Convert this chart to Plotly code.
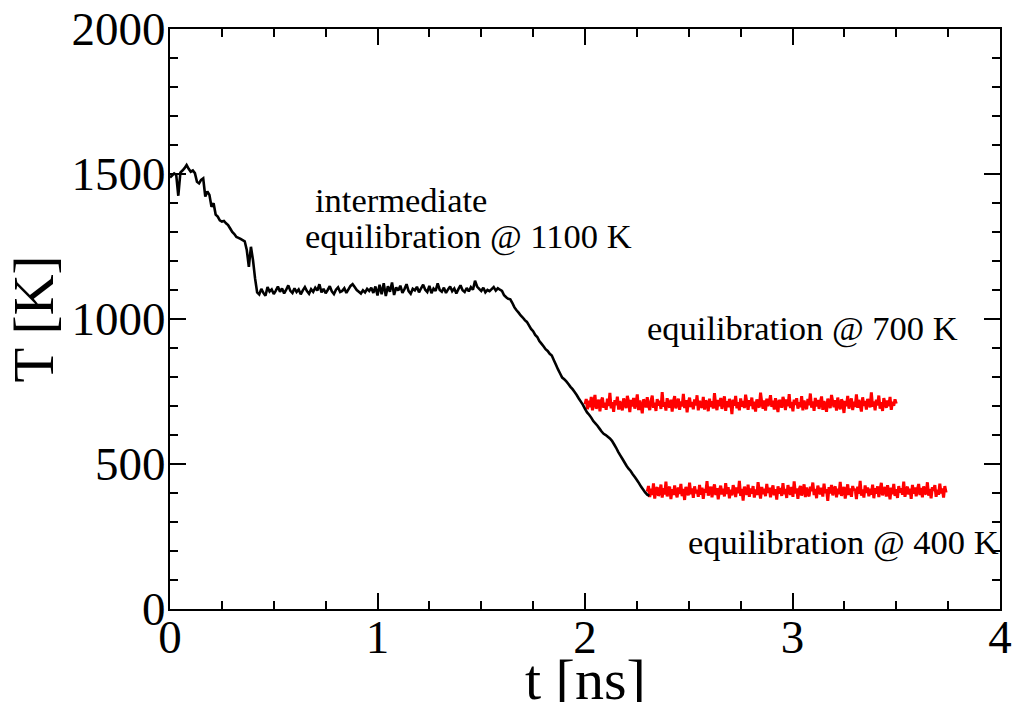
import numpy as np
import plotly.graph_objects as go

# ---------------- data ----------------
# black cooling trajectory, sampled every 0.01 ns starting at t = 0
black_t0 = 0.0
black_dt = 0.01
black_T = [
    1488, 1495, 1502, 1497, 1425, 1505, 1512, 1520, 1531, 1518, 1508,
    1512, 1503, 1473, 1468, 1480, 1485, 1422, 1440, 1428, 1387,
    1399, 1360, 1353, 1340, 1336, 1338, 1330, 1324, 1312, 1300,
    1293, 1283, 1280, 1276, 1272, 1268, 1238, 1180, 1249, 1203,
    1140, 1092, 1085, 1104, 1090, 1080, 1110, 1095, 1102, 1086,
    1098, 1112, 1094, 1105, 1088, 1101, 1116, 1097, 1090, 1106,
    1093, 1102, 1085, 1099, 1110, 1096, 1087, 1103, 1094, 1108,
    1098, 1120, 1092, 1104, 1089, 1100, 1113, 1095, 1086, 1101,
    1109, 1093, 1097, 1106, 1090, 1102, 1114, 1120, 1110, 1100,
    1094, 1088, 1099, 1092, 1104, 1097, 1108, 1090, 1112, 1081,
    1118, 1085, 1123, 1079, 1113, 1094, 1126, 1083, 1109, 1098,
    1115, 1090, 1103, 1120, 1096, 1087, 1104, 1099, 1111, 1092,
    1106, 1118, 1101, 1093, 1114, 1089, 1105, 1097, 1123, 1100,
    1094, 1108, 1090, 1102, 1112, 1096, 1105, 1088, 1103, 1116,
    1099, 1093, 1107, 1095, 1110, 1101, 1132, 1112, 1104, 1097,
    1108, 1092, 1100, 1096, 1103, 1110, 1098, 1106, 1101, 1097,
    1082, 1075, 1070, 1068, 1055, 1040, 1030, 1022, 1012, 1005,
    996, 990, 978, 966, 958, 945, 938, 924, 915, 906,
    896, 890, 880, 874, 858, 842, 826, 812, 798, 792,
    785, 776, 766, 758, 748, 738, 726, 715, 704, 690,
    678, 670, 660, 648, 640, 632, 622, 612, 604, 600,
    594, 588, 580, 568, 556, 542, 530, 518, 506, 494,
    484, 476, 465, 455, 445, 434, 422, 412, 402, 394,
    390,
]

# red equilibration run at 700 K, sampled every 0.006 ns from t = 2.0
eq700_t0 = 2.0
eq700_dt = 0.006
eq700_T = [
    706, 724, 689, 718, 696, 731, 685, 714, 738, 691,
    702, 722, 682, 716, 729, 694, 711, 687, 725, 700,
    745, 692, 713, 680, 720, 703, 732, 688, 717, 697,
    685, 726, 710, 693, 735, 715, 679, 721, 698, 728,
    691, 712, 740, 686, 719, 700, 675, 723, 714, 695,
    730, 702, 686, 717, 736, 694, 711, 683, 724, 701,
    718, 690, 748, 698, 713, 684, 727, 703, 695, 722,
    681, 715, 734, 692, 710, 725, 687, 716, 699, 742,
    693, 720, 678, 712, 729, 696, 714, 689, 723, 702,
    737, 685, 718, 700, 694, 731, 688, 719, 711, 682,
    725, 697, 716, 691, 744, 703, 686, 721, 699, 728,
    690, 714, 733, 683, 717, 696, 724, 710, 672, 722,
    701, 735, 692, 713, 685, 726, 698, 717, 693, 739,
    711, 687, 720, 700, 729, 689, 715, 681, 723, 703,
    695, 746, 712, 691, 719, 684, 725, 700, 714, 737,
    697, 718, 688, 727, 703, 679, 721, 712, 694, 731,
    716, 686, 723, 699, 741, 693, 714, 682, 722, 704,
    727, 691, 713, 696, 734, 685, 719, 701, 689, 724,
    703, 743, 694, 716, 683, 728, 698, 721, 690, 712,
    733, 687, 717, 700, 680, 725, 711, 693, 738, 714,
    696, 720, 684, 729, 702, 689, 723, 713, 676, 718,
    699, 735, 691, 712, 726, 686, 715, 697, 740, 694,
    721, 703, 681, 730, 700, 717, 688, 724, 711, 695,
    747, 698, 716, 685, 722, 702, 736, 691, 713, 683,
    727, 710, 694, 719, 699, 731, 687, 715, 701, 723,
    708,
]

# red equilibration run at 400 K, sampled every 0.006 ns from t = 2.30
eq400_t0 = 2.30
eq400_dt = 0.006
eq400_T = [
    405, 424, 386, 415, 393, 433, 381, 412, 420, 390,
    401, 429, 384, 417, 395, 439, 388, 410, 422, 379,
    413, 393, 426, 400, 385, 419, 397, 431, 389, 414,
    376, 421, 407, 392, 436, 396, 416, 383, 423, 399,
    411, 387, 428, 394, 418, 380, 414, 401, 441, 391,
    406, 422, 385, 412, 430, 393, 417, 378, 409, 425,
    395, 415, 388, 434, 397, 420, 382, 411, 392, 427,
    413, 386, 419, 399, 442, 390, 414, 374, 422, 408,
    394, 429, 387, 416, 398, 424, 384, 412, 393, 437,
    407, 381, 421, 396, 415, 389, 431, 400, 418, 385,
    410, 426, 392, 413, 377, 423, 398, 417, 390, 434,
    396, 414, 383, 427, 408, 394, 421, 387, 440, 399,
    416, 380, 412, 424, 391, 409, 430, 386, 419, 397,
    389, 422, 407, 436, 393, 414, 382, 425, 410, 395,
    418, 388, 432, 400, 413, 373, 420, 398, 428, 392,
    411, 423, 385, 415, 396, 438, 390, 409, 421, 381,
    405, 430, 393, 416, 387, 424, 408, 414, 379, 422,
    397, 442, 391, 412, 384, 426, 400, 419, 389, 415,
    394, 429, 382, 417, 398, 423, 386, 411, 435, 392,
    409, 421, 388, 427, 405, 378, 418, 396, 431, 390,
    413, 383, 424, 401, 416, 394, 439, 387, 410, 422,
    395, 415, 380, 428, 398, 419, 389, 412, 431, 393,
    417, 385, 423, 400, 396, 437, 391, 414, 382, 420,
    408, 427, 387, 411, 394, 432, 399, 416, 384, 424,
    402,
]

x_ticks = [0, 1, 2, 3, 4]
y_ticks = [0, 500, 1000, 1500, 2000]

labels = [
    ("intermediate", 0.69, 1410),
    ("equilibration @ 1100 K", 0.64, 1285),
    ("equilibration @ 700 K", 2.29, 968),
    ("equilibration @ 400 K", 2.487, 228),
]


def sample_times(t0, dt, n):
    return np.round(t0 + dt * np.arange(n), 4)


FONT = "Liberation Serif"

fig = go.Figure()
fig.add_trace(go.Scatter(
    x=sample_times(eq700_t0, eq700_dt, len(eq700_T)), y=eq700_T,
    mode="lines", line=dict(color="#ff0000", width=3, simplify=False),
    showlegend=False))
fig.add_trace(go.Scatter(
    x=sample_times(eq400_t0, eq400_dt, len(eq400_T)), y=eq400_T,
    mode="lines", line=dict(color="#ff0000", width=3, simplify=False),
    showlegend=False))
fig.add_trace(go.Scatter(
    x=sample_times(black_t0, black_dt, len(black_T)), y=black_T,
    mode="lines", line=dict(color="black", width=2.6, simplify=False),
    showlegend=False))

for text, x, y in labels:
    fig.add_annotation(x=x, y=y, text=text, showarrow=False,
                       xanchor="left", yanchor="middle",
                       font=dict(family=FONT, size=34.5, color="black"))

# x-axis title (placed so that it runs off the bottom edge like the reference)
fig.add_annotation(x=0.5, y=-0.121, xref="paper", yref="paper",
                   text="t [ns]", showarrow=False,
                   xanchor="center", yanchor="middle",
                   font=dict(family=FONT, size=58, color="black"))

axis_common = dict(
    showline=True, linecolor="black", linewidth=2, mirror="ticks",
    ticks="inside", ticklen=16, tickwidth=2, tickcolor="black",
    showgrid=False, zeroline=False, automargin=False,
    tickfont=dict(family=FONT, size=47, color="black"),
)

fig.update_xaxes(range=[0, 4], tickvals=x_ticks, ticklabelstandoff=-14,
                 minor=dict(dtick=0.25, ticks="inside", ticklen=8,
                            tickwidth=2, tickcolor="black", showgrid=False),
                 **axis_common)
fig.update_yaxes(range=[0, 2000], tickvals=y_ticks, ticklabelstandoff=-7,
                 minor=dict(dtick=100, ticks="inside", ticklen=8,
                            tickwidth=2, tickcolor="black", showgrid=False),
                 title=dict(text="T [K]", standoff=0,
                            font=dict(family=FONT, size=57, color="black")),
                 **axis_common)

fig.update_layout(
    width=1013, height=702,
    margin=dict(l=170, r=13, t=29, b=93),
    paper_bgcolor="white", plot_bgcolor="white",
    showlegend=False,
)

fig.write_html("out.html")
